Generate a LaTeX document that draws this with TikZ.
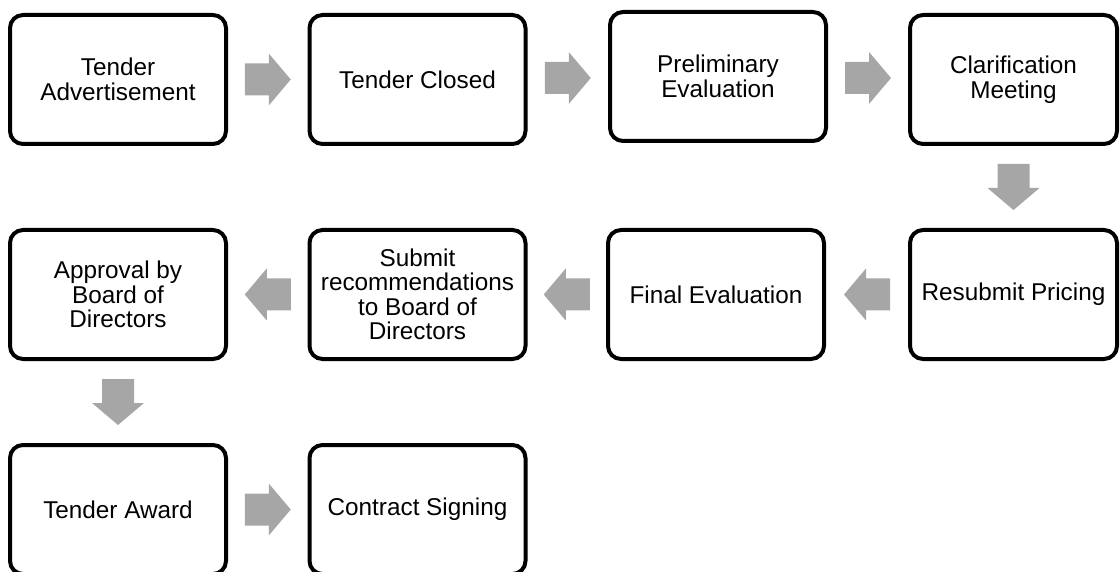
\documentclass[tikz,border=0pt]{standalone}
\usepackage{fontspec}
\setmainfont{Liberation Sans}
\usetikzlibrary{calc}
\definecolor{arrowgray}{HTML}{A6A6A6}
\begin{document}
\begin{tikzpicture}[x=1pt,y=-1pt,
  stepbox/.style={draw=black, line width=4pt, rounded corners=13pt, fill=white,
    minimum width=216pt, minimum height=129pt, align=center, inner sep=0pt,
    font=\fontsize{24.3}{24.5}\selectfont},
  narrowbox/.style={stepbox, minimum width=207pt},
  blockarrow/.pic={\fill[arrowgray] (-23,-16) -- (1,-16) -- (1,-26) -- (23,0)
    -- (1,26) -- (1,16) -- (-23,16) -- cycle;}
]
\useasboundingbox (0,0) rectangle (1120,572);

% process steps
\node[stepbox]   (tadv)     at (118,79.5)    {Tender\\Advertisement};
\node[stepbox]   (tclosed)  at (417.5,79.5)  {Tender Closed};
\node[stepbox]   (prelim)   at (718,76.5)    {Preliminary\\Evaluation};
\node[narrowbox] (clar)     at (1013.5,79.5) {Clarification\\Meeting};
\node[narrowbox] (resub)    at (1013.5,294.5){Resubmit Pricing};
\node[stepbox]   (final)    at (716,294.5)   {Final Evaluation};
\node[stepbox]   (submit)   at (417.5,294.5) {Submit\\recommendations\\to Board of\\Directors};
\node[stepbox]   (approve)  at (118,294.5)   {Approval by\\Board of\\Directors};
\node[stepbox]   (award)    at (118,509.5)   {Tender Award};
\node[stepbox]   (contract) at (417.5,509.5) {Contract Signing};

% block arrows between consecutive steps
\pic at ($(tadv.east)!.5!(tclosed.west)$) {blockarrow};
\pic at ($(tclosed.east)!.5!(prelim.west)$) {blockarrow};
\pic at ($(prelim.east)!.5!(clar.west)$) {blockarrow};
\pic[rotate=-90] at ($(clar.south)!.5!(resub.north)$) {blockarrow};
\pic[rotate=180] at ($(resub.west)!.5!(final.east)$) {blockarrow};
\pic[rotate=180] at ($(final.west)!.5!(submit.east)$) {blockarrow};
\pic[rotate=180] at ($(submit.west)!.5!(approve.east)$) {blockarrow};
\pic[rotate=-90] at ($(approve.south)!.5!(award.north)$) {blockarrow};
\pic at ($(award.east)!.5!(contract.west)$) {blockarrow};
\end{tikzpicture}
\end{document}
